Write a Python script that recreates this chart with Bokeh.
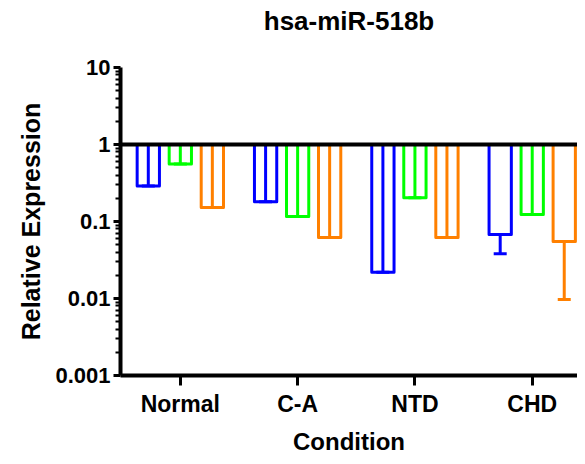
from bokeh.plotting import figure
from bokeh.models import Range1d, FixedTicker, ColumnDataSource, Whisker, TeeHead, Span, Title
from bokeh.embed import file_html
from bokeh.resources import INLINE

# ---- data ----
title_text = "hsa-miR-518b"
categories = ["Normal", "C-A", "NTD", "CHD"]
blue_vals = [0.29, 0.18, 0.022, 0.068]
green_vals = [0.56, 0.116, 0.204, 0.123]
orange_vals = [0.152, 0.062, 0.062, 0.055]
# visible error-bar ends (upper end clipped at the baseline)
blue_err_lo = [0.29, 0.18, 0.022, 0.038]
blue_err_hi = [1.0, 1.0, 1.0, 0.068]
green_err_lo = [0.56, 0.116, 0.204, 0.123]
green_err_hi = [1.0, 1.0, 1.0, 1.0]
orange_err_lo = [0.152, 0.062, 0.062, 0.0097]
orange_err_hi = [1.0, 1.0, 1.0, 0.055]
baseline = 1.0
y_ticks = [0.001, 0.01, 0.1, 1, 10]
y_tick_labels = ["0.001", "0.01", "0.1", "1", "10"]
y_minor_ticks = [m * 10.0 ** e for e in range(-3, 1) for m in range(2, 10)]

colors = ["#0000FF", "#00FF00", "#FF8000"]
offsets = [-0.273, 0.0, 0.273]
bar_width = 0.19
FONT = "Liberation Sans"

p = figure(
    frame_width=457, frame_height=308,
    min_border_left=120, min_border_right=0, min_border_bottom=80, min_border_top=0,
    x_range=Range1d(-0.51, 3.386), y_range=Range1d(y_ticks[0], y_ticks[-1]),
    y_axis_type="log", output_backend="svg", toolbar_location=None,
)
p.outline_line_color = None
p.xgrid.visible = False
p.ygrid.visible = False
p.background_fill_color = "white"

# blank spacer between plot area and title, then the title itself
p.add_layout(Title(text=" ", text_font=FONT, text_font_size="10px", standoff=12), "above")
p.add_layout(Title(text=title_text, align="center", offset=8, vertical_align="top",
                   standoff=10, text_font=FONT, text_font_size="26px",
                   text_font_style="bold", text_color="black"), "above")

idx = list(range(len(categories)))
series = [
    (blue_vals, blue_err_lo, blue_err_hi),
    (green_vals, green_err_lo, green_err_hi),
    (orange_vals, orange_err_lo, orange_err_hi),
]
for (vals, lo, hi), col, off in zip(series, colors, offsets):
    src = ColumnDataSource(dict(
        x=[i + off for i in idx], top=vals, bottom=[baseline] * len(vals),
        lo=lo, hi=hi,
    ))
    p.vbar(x="x", top="top", bottom="bottom", width=bar_width, source=src,
           fill_color=None, line_color=col, line_width=3, line_join="round")
    w = Whisker(base="x", lower="lo", upper="hi", source=src, dimension="height",
                line_color=col, line_width=3,
                lower_head=TeeHead(size=13, line_color=col, line_width=3),
                upper_head=None, level="glyph")
    p.add_layout(w)

p.add_layout(Span(location=baseline, dimension="width", line_color="black",
                  line_width=4, level="annotation"))

# x axis
xa = p.xaxis[0]
xa.ticker = FixedTicker(ticks=idx)
xa.major_label_overrides = {i: c for i, c in zip(idx, categories)}
xa.axis_label = "Condition"
xa.axis_line_width = 4
xa.major_tick_line_width = 3
xa.major_tick_in = 0
xa.major_tick_out = 10
xa.minor_tick_line_color = None
xa.major_label_text_font = FONT
xa.major_label_text_font_size = "23px"
xa.major_label_text_font_style = "bold"
xa.major_label_text_color = "black"
xa.major_label_standoff = 5
xa.axis_label_text_font = FONT
xa.axis_label_text_font_size = "24px"
xa.axis_label_text_font_style = "bold"
xa.axis_label_text_color = "black"
xa.axis_label_standoff = 8

# y axis
ya = p.yaxis[0]
ya.ticker = FixedTicker(ticks=y_ticks, minor_ticks=y_minor_ticks)
ya.major_label_overrides = {t: l for t, l in zip(y_ticks, y_tick_labels)}
ya.axis_label = "Relative Expression"
ya.axis_line_width = 4
ya.major_tick_line_width = 3
ya.major_tick_in = 0
ya.major_tick_out = 7
ya.minor_tick_in = 0
ya.minor_tick_out = 5
ya.minor_tick_line_width = 2
ya.major_label_text_font = FONT
ya.major_label_text_font_size = "22px"
ya.major_label_text_font_style = "bold"
ya.major_label_text_color = "black"
ya.major_label_standoff = 3
ya.axis_label_text_font = FONT
ya.axis_label_text_font_size = "25px"
ya.axis_label_text_font_style = "bold"
ya.axis_label_text_color = "black"
ya.axis_label_standoff = 7

open("out.html", "w").write(file_html(p, INLINE))
